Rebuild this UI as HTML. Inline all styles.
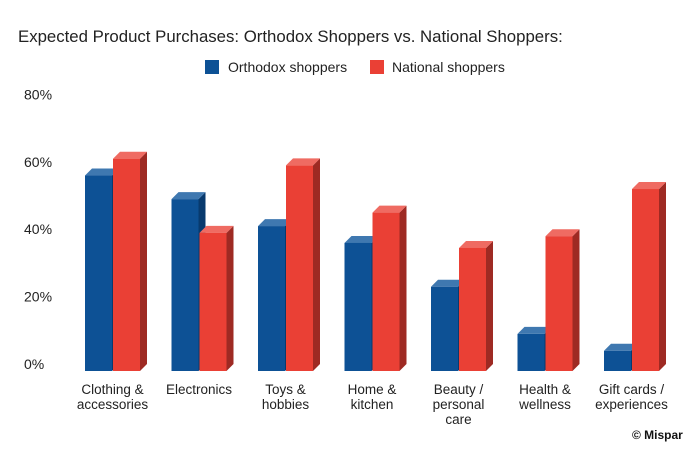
<!DOCTYPE html>
<html><head><meta charset="utf-8"><style>
body{margin:0;background:#fff;width:698px;height:457px;overflow:hidden;font-family:"Liberation Sans",sans-serif}
</style></head><body>
<svg width="698" height="457" id="c">
<text x="18" y="42" font-size="16.8" fill="#222">Expected Product Purchases: Orthodox Shoppers vs. National Shoppers:</text>
<g>
<rect x="205" y="60" width="14" height="14" fill="#0d5195"/>
<text x="228" y="72" font-size="14" fill="#222">Orthodox shoppers</text>
<rect x="370" y="60" width="14" height="14" fill="#ea4035"/>
<text x="392" y="72" font-size="14" fill="#222">National shoppers</text>
</g>
<text x="632" y="439" font-size="12" font-weight="bold" fill="#111">© Mispar</text>
</svg>
<script>
const categories=[["Clothing &","accessories"],["Electronics"],["Toys &","hobbies"],["Home &","kitchen"],["Beauty /","personal","care"],["Health &","wellness"],["Gift cards /","experiences"]];
const orthodox=[58,51,43,38,25,11,6];
const national=[63,41,61,47,36.5,40,54];
const ticks=[0,20,40,60,80];
const tickLabels=["0%","20%","40%","60%","80%"];
const NS="http://www.w3.org/2000/svg";
const svg=document.getElementById('c');
const y0=371,k=3.37,d=7,bw=27;
const yv=v=>y0-v*k;
const xc=i=>112.5+i*86.5;
function mk(t,a){const e=document.createElementNS(NS,t);for(const n in a)e.setAttribute(n,a[n]);svg.appendChild(e);return e;}
ticks.forEach((t,i)=>{
 const e=mk('text',{x:24,y:yv(t)-2,'font-size':14,fill:'#222'});
 e.textContent=tickLabels[i];
 
 
});
function bar(x,v,front,top,side,name){
 const y=yv(v);
 const g=document.createElementNS(NS,'g');
 
 
 svg.appendChild(g);
 const r=document.createElementNS(NS,'rect');
 r.setAttribute('x',x);r.setAttribute('y',y);r.setAttribute('width',bw);r.setAttribute('height',y0-y);r.setAttribute('fill',front);
 const t=document.createElementNS(NS,'polygon');
 t.setAttribute('points',`${x},${y} ${x+d},${y-d} ${x+bw+d},${y-d} ${x+bw},${y}`);t.setAttribute('fill',top);
 const s=document.createElementNS(NS,'polygon');
 s.setAttribute('points',`${x+bw},${y} ${x+bw+d},${y-d} ${x+bw+d},${y0-d} ${x+bw},${y0}`);s.setAttribute('fill',side);
 g.appendChild(s);g.appendChild(t);g.appendChild(r);
}
categories.forEach((c,i)=>{
 const cx=xc(i);
 bar(cx-bw-0.5,orthodox[i],'#0d5195','#3f78b0','#083a6e','bar-orthodox');
 bar(cx+0.5,national[i],'#ea4035','#ef6b62','#9e2a23','bar-national');
 const tx=mk('text',{x:cx,y:394,'font-size':13.5,fill:'#222','text-anchor':'middle'});
 
 
 c.forEach((l,j)=>{const ts=document.createElementNS(NS,'tspan');ts.setAttribute('x',cx);ts.setAttribute('dy',j?15:0);ts.textContent=l;tx.appendChild(ts);});
});
</script>
</body></html>
